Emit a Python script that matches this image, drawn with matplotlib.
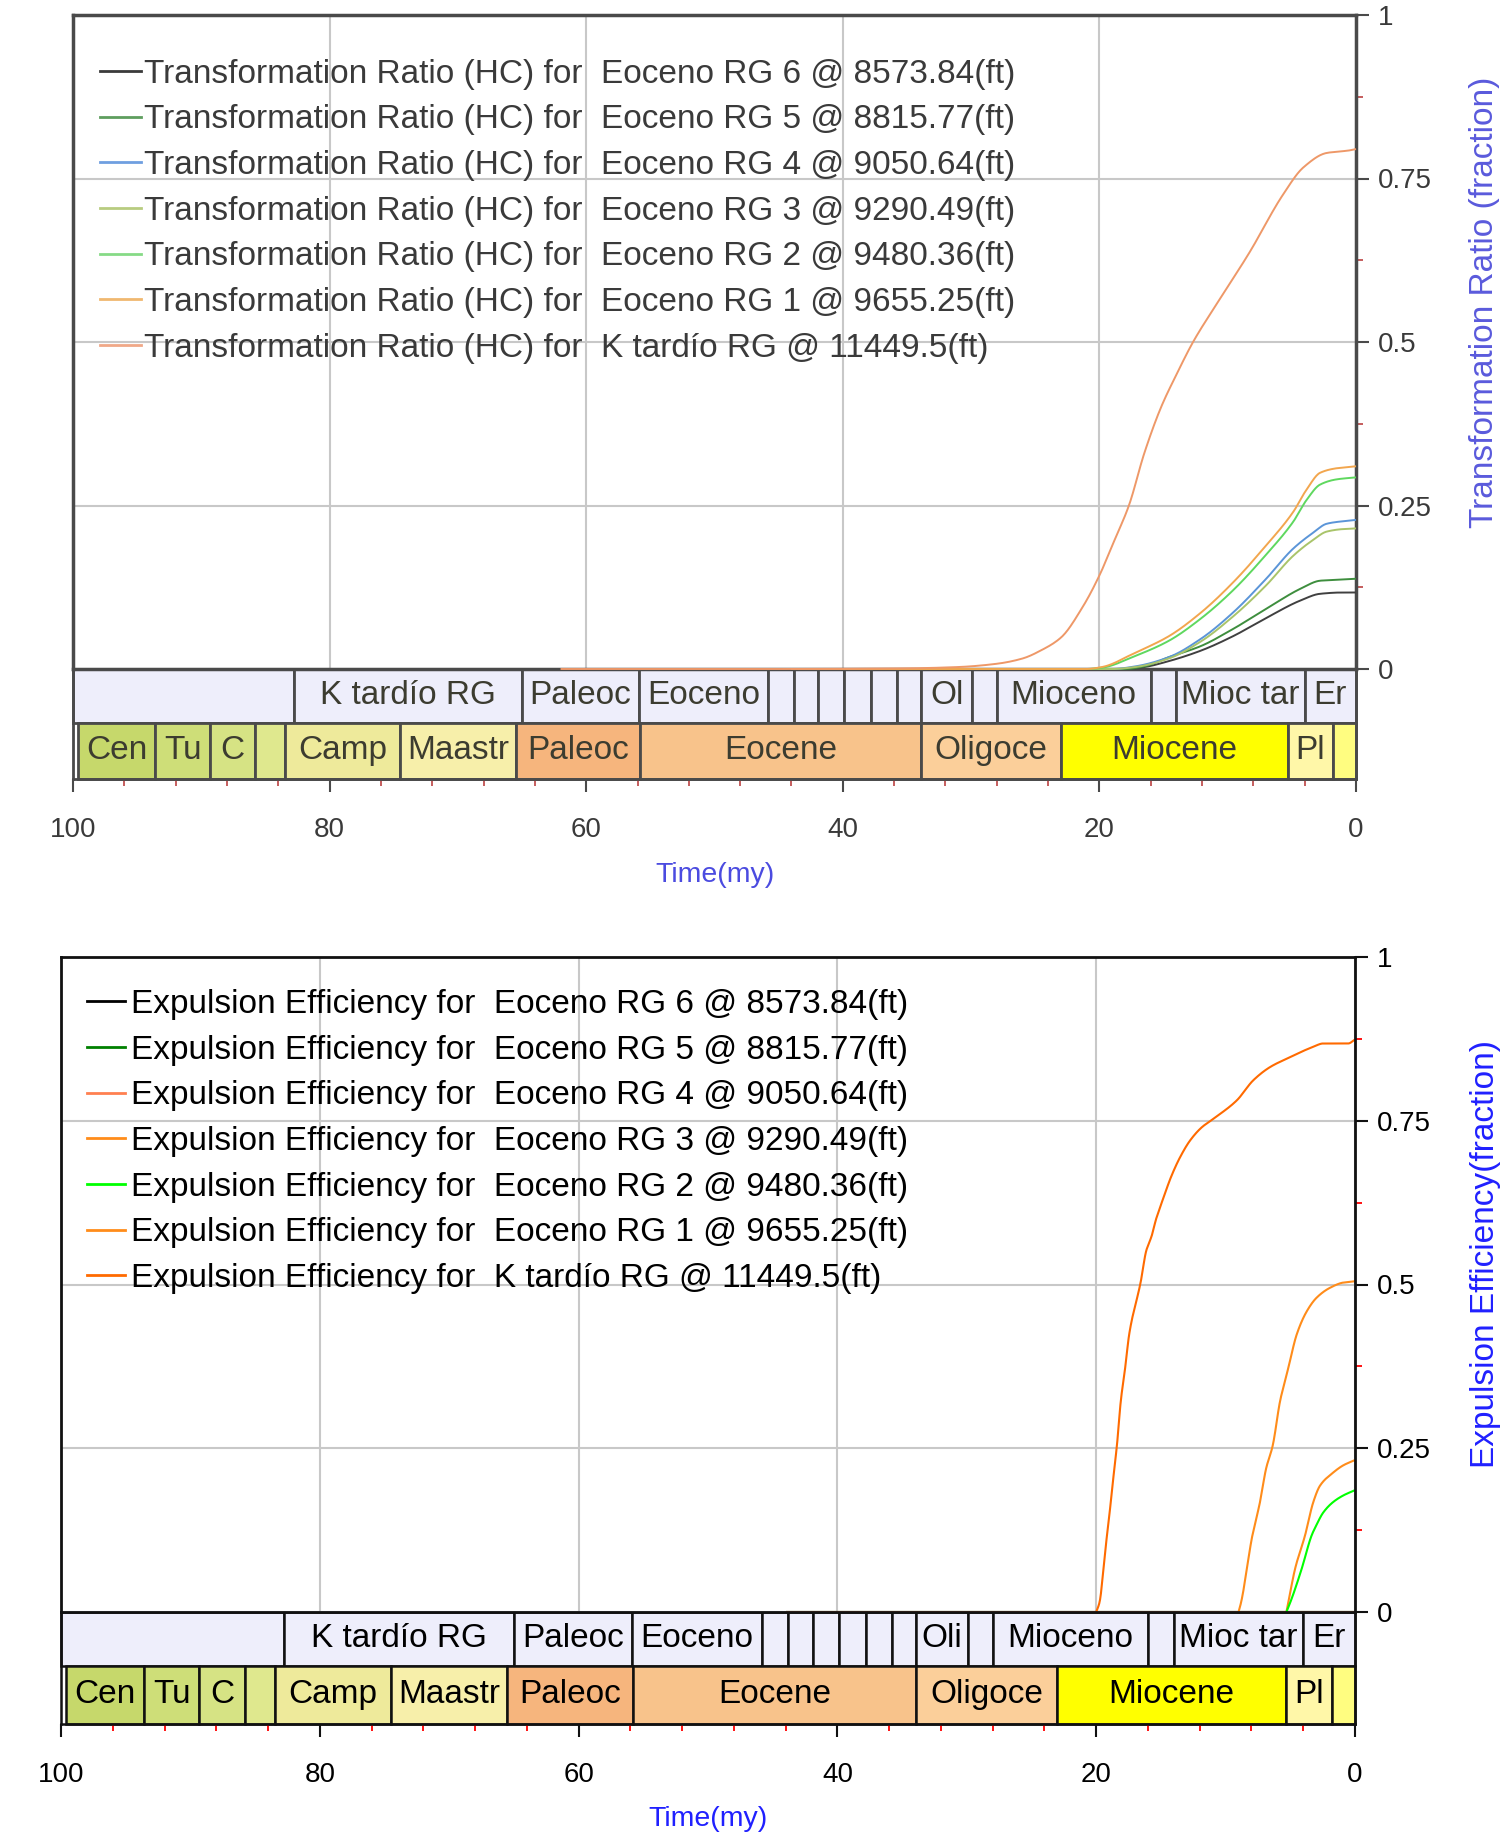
import numpy as np
import matplotlib
matplotlib.use('Agg')
import matplotlib.pyplot as plt
from matplotlib.patches import Rectangle
from matplotlib.lines import Line2D
from matplotlib.ticker import MultipleLocator, FixedLocator, FuncFormatter
from matplotlib import font_manager

installed = {f.name for f in font_manager.fontManager.ttflist}
FONT = 'Liberation Sans' if 'Liberation Sans' in installed else 'DejaVu Sans'
plt.rcParams['font.family'] = [FONT, 'DejaVu Sans']

# ---------------- stratigraphic columns ----------------
formation_edges = [100, 82.8, 65.0, 55.9, 45.8, 43.8, 41.9, 39.9, 37.8, 35.8,
                   33.9, 29.9, 28.0, 16.0, 14.0, 4.0, 0.0]
formation_names_top = ['', 'K tardío RG', 'Paleoc', 'Eoceno', '', '', '', '', '', '',
                       'Ol', '', 'Mioceno', '', 'Mioc tar', 'Er']
formation_names_bottom = ['', 'K tardío RG', 'Paleoc', 'Eoceno', '', '', '', '', '', '',
                          'Oli', '', 'Mioceno', '', 'Mioc tar', 'Er']

epoch_edges = [99.6, 93.6, 89.3, 85.8, 83.5, 74.5, 65.5, 55.8, 33.9, 23.03, 5.33, 1.81, 0.0]
epoch_names = ['Cen', 'Tu', 'C', '', 'Camp', 'Maastr', 'Paleoc', 'Eocene', 'Oligoce',
               'Miocene', 'Pl', '']
epoch_colors = ['#C6D86B', '#CEDE78', '#D6E384', '#DFE88E', '#EEEA9B', '#F7EFAA',
                '#F6B57D', '#F8C38B', '#FBCF9A', '#FFFF00', '#FFF7A8', '#FFFD80']

series_names = ['Eoceno RG 6 @ 8573.84(ft)', 'Eoceno RG 5 @ 8815.77(ft)',
                'Eoceno RG 4 @ 9050.64(ft)', 'Eoceno RG 3 @ 9290.49(ft)',
                'Eoceno RG 2 @ 9480.36(ft)', 'Eoceno RG 1 @ 9655.25(ft)',
                'K tardío RG @ 11449.5(ft)']

# ---------------- Transformation Ratio (HC) ----------------
tr_rg6_age = [44, 18, 16.5, 14.6, 12.1, 9.6, 7.0, 4.3, 2.8, 1.0, 0]
tr_rg6 = [0, 0, 0.003, 0.012, 0.028, 0.05, 0.078, 0.105, 0.115, 0.117, 0.117]
tr_rg5_age = [44, 18, 16.5, 14.6, 12.1, 9.6, 7.0, 4.3, 2.8, 1.0, 0]
tr_rg5 = [0, 0, 0.004, 0.018, 0.035, 0.061, 0.092, 0.123, 0.135, 0.137, 0.138]
tr_rg4_age = [44, 19, 17.2, 14.6, 12.1, 9.6, 7.0, 4.9, 3.3, 2.3, 1.0, 0]
tr_rg4 = [0, 0, 0.004, 0.018, 0.046, 0.086, 0.138, 0.184, 0.209, 0.222, 0.226, 0.228]
tr_rg3_age = [44, 19, 17.2, 14.6, 12.1, 9.6, 7.0, 4.9, 3.3, 2.3, 1.0, 0]
tr_rg3 = [0, 0, 0.003, 0.016, 0.042, 0.08, 0.128, 0.173, 0.198, 0.21, 0.214, 0.215]
tr_rg2_age = [44, 21, 19.8, 17.2, 14.6, 12.1, 9.6, 7.0, 4.9, 3.8, 2.8, 1.5, 0]
tr_rg2 = [0, 0, 0.002, 0.02, 0.043, 0.077, 0.12, 0.175, 0.225, 0.26, 0.282, 0.29, 0.293]
tr_rg1_age = [44, 21, 19.8, 17.2, 14.6, 12.1, 9.6, 7.0, 4.9, 3.8, 2.8, 1.5, 0]
tr_rg1 = [0, 0, 0.003, 0.025, 0.05, 0.086, 0.132, 0.189, 0.24, 0.276, 0.3, 0.307, 0.31]
tr_kt_age = [62, 45, 35, 31, 28, 26, 24.5, 23, 21.3, 20, 18.8, 17.7, 16.5, 15.2, 14,
             12.7, 10.8, 8.3, 5.7, 4.1, 2.3, 0.5, 0]
tr_kt = [0, 0, 0.001, 0.003, 0.008, 0.016, 0.029, 0.048, 0.095, 0.143, 0.198, 0.25, 0.33,
         0.4, 0.45, 0.5, 0.56, 0.637, 0.725, 0.767, 0.789, 0.793, 0.795]

# ---------------- Expulsion Efficiency ----------------
ee_rg6_age = [44, 0]
ee_rg6 = [0, 0]
ee_rg5_age = [44, 0]
ee_rg5 = [0, 0]
ee_rg4_age = [44, 0]
ee_rg4 = [0, 0]
ee_rg3_age = [5.3, 5.15, 4.63, 3.86, 3.22, 2.7, 1.68, 0.9, 0]
ee_rg3 = [0, 0.015, 0.066, 0.117, 0.168, 0.193, 0.213, 0.224, 0.232]
ee_rg2_age = [5.3, 4.9, 4.12, 3.35, 3.0, 2.45, 1.68, 0.9, 0]
ee_rg2 = [0, 0.02, 0.066, 0.117, 0.132, 0.152, 0.168, 0.178, 0.186]
ee_rg1_age = [9.0, 8.8, 7.93, 7.34, 6.87, 6.36, 5.79, 5.15, 4.5, 3.73, 2.96, 1.93, 0.9, 0]
ee_rg1 = [0, 0.015, 0.117, 0.168, 0.219, 0.254, 0.322, 0.373, 0.424, 0.459, 0.48, 0.495,
          0.503, 0.505]
ee_kt_age = [20.0, 19.74, 19.43, 19.17, 18.87, 18.6, 18.4, 18.1, 17.76, 17.45, 16.55,
             16.14, 15.7, 15.37, 15.06, 14.67, 14.2, 13.5, 12.74, 11.84, 10.94, 9.14,
             7.85, 6.56, 5.02, 3.22, 2.45, 0.52, 0]
ee_kt = [0, 0.015, 0.066, 0.117, 0.168, 0.219, 0.254, 0.322, 0.373, 0.424, 0.505,
         0.551, 0.575, 0.6, 0.618, 0.64, 0.665, 0.695, 0.72, 0.74, 0.753, 0.781,
         0.812, 0.832, 0.847, 0.863, 0.868, 0.868, 0.874]

tr_colors = ['#404040', '#3E8E3E', '#5B95D8', '#A9C46A', '#5FD85F', '#F2A64E', '#EE9868']
tr_legend_colors = ['#3A3A3A', '#5E9E5E', '#6F9FE0', '#B8CC80', '#86DA86', '#F0B870', '#F0A888']
ee_colors = ['#000000', '#008000', '#FF8050', '#FF8C1A', '#00FF00', '#FF8C1A', '#FF6A00']

W, H = 1507, 1836
fig = plt.figure(figsize=(W / 100, H / 100), dpi=100)
fig.patch.set_facecolor('white')


def smooth_curve(xs, ys, n=600):
    """Shape-preserving (PCHIP) curve through the given points, for drawing."""
    x = np.asarray(xs, float)
    y = np.asarray(ys, float)
    order = np.argsort(x)
    x, y = x[order], y[order]
    if len(x) < 3:
        return x, y
    h = np.diff(x)
    d = np.diff(y) / h
    m = np.zeros_like(y)
    for k in range(1, len(x) - 1):
        if d[k - 1] * d[k] > 0:
            w1 = 2 * h[k] + h[k - 1]
            w2 = h[k] + 2 * h[k - 1]
            m[k] = (w1 + w2) / (w1 / d[k - 1] + w2 / d[k])
    m[0], m[-1] = d[0], d[-1]
    xx = np.linspace(x[0], x[-1], n)
    idx = np.clip(np.searchsorted(x, xx) - 1, 0, len(x) - 2)
    t = (xx - x[idx]) / h[idx]
    h00 = 2 * t**3 - 3 * t**2 + 1
    h10 = t**3 - 2 * t**2 + t
    h01 = -2 * t**3 + 3 * t**2
    h11 = t**3 - t**2
    yy = h00 * y[idx] + h10 * h[idx] * m[idx] + h01 * y[idx + 1] + h11 * h[idx] * m[idx + 1]
    return xx, yy


def px_axes(left, right, top, bottom):
    return fig.add_axes([left / W, 1 - bottom / H, (right - left) / W, (bottom - top) / H])


def draw_panel(box, split, series, colors, legend_colors, prefix, formation_names,
               ylabel, ylabel_y, legend_anchor, hl, htp, st):
    left, right, top, base, strat_bottom = box
    ax_s = px_axes(left, right, base, strat_bottom)
    ax = px_axes(left, right, top, base)
    ax.sharex(ax_s)

    ax_s.set_xlim(100, 0)
    ax_s.set_ylim(0, 1)
    ax.set_ylim(0, 1)

    # stratigraphic bands
    for i, name in enumerate(formation_names):
        a, b = formation_edges[i], formation_edges[i + 1]
        ax_s.add_patch(Rectangle((b, split), a - b, 1 - split, facecolor='#EEEEFB',
                                 edgecolor=st['edge'], lw=st['band_lw'], clip_on=False))
        if name:
            ax_s.text((a + b) / 2, split + (1 - split) / 2, name, ha='center',
                      va='center', fontsize=24, color=st['band_text'])
    for i, name in enumerate(epoch_names):
        a, b = epoch_edges[i], epoch_edges[i + 1]
        ax_s.add_patch(Rectangle((b, 0), a - b, split, facecolor=epoch_colors[i],
                                 edgecolor=st['edge'], lw=st['band_lw'], clip_on=False))
        if name:
            ax_s.text((a + b) / 2, split / 2, name, ha='center', va='center',
                      fontsize=24, color=st['band_text'])

    ax_s.set_yticks([])
    ax_s.spines['top'].set_visible(False)
    for s in ('left', 'right', 'bottom'):
        ax_s.spines[s].set_color(st['edge'])
        ax_s.spines[s].set_linewidth(st['band_lw'])
    ax_s.xaxis.set_major_locator(MultipleLocator(20))
    ax_s.xaxis.set_minor_locator(MultipleLocator(4))
    ax_s.xaxis.set_major_formatter(FuncFormatter(lambda v, p: f'{v:g}'))
    ax_s.tick_params(axis='x', which='major', direction='out', length=9.5, width=1.5,
                     color=st['edge'], labelcolor=st['tick_text'], labelsize=20, pad=18)
    ax_s.tick_params(axis='x', which='minor', direction='out', length=5, width=1.3,
                     color=st['minor'])
    ax_s.set_xlabel('Time(my)', fontsize=20.5, color=st['xlabel'])
    ax_s.xaxis.set_label_coords(0.5, st['xlabel_y'])
    ax_s.xaxis.label.set_va('center')

    # curves
    for (ages, vals), c in zip(series, colors):
        xs, ys = smooth_curve(ages, vals)
        ax.plot(xs, ys, color=c, lw=st['line_lw'], zorder=st['line_z'],
                clip_on=st['line_clip'], solid_capstyle='butt')

    ax.grid(True, which='major', color='#C8C8C8', lw=1.5)
    ax.set_axisbelow(True)
    ax.tick_params(axis='x', which='both', bottom=False, labelbottom=False)
    ax.yaxis.tick_right()
    ax.set_yticks([0, 0.25, 0.5, 0.75, 1])
    ax.yaxis.set_minor_locator(FixedLocator([0.125, 0.375, 0.625, 0.875]))
    ax.yaxis.set_major_formatter(FuncFormatter(lambda v, p: f'{v:g}'))
    ax.tick_params(axis='y', which='major', direction='out', length=9, width=1.5,
                   color=st['edge'], labelcolor=st['tick_text'], labelsize=20, pad=7)
    ax.tick_params(axis='y', which='minor', direction='out', length=5, width=1.3,
                   color=st['minor'])
    for s in ('left', 'right', 'top', 'bottom'):
        ax.spines[s].set_color(st['edge'])
        ax.spines[s].set_linewidth(st['spine_lw'])

    ax.yaxis.set_label_position('right')
    ax.set_ylabel(ylabel, fontsize=24, color=st['ylabel'], rotation=90)
    ax.yaxis.set_label_coords(1.1005, ylabel_y)
    ax.yaxis.label.set_va('center')
    ax.yaxis.label.set_ha('center')

    handles = [Line2D([], [], color=c, lw=2) for c in legend_colors]
    labels = [prefix + n for n in series_names]
    ax.legend(handles, labels, loc='upper left', bbox_to_anchor=legend_anchor,
              frameon=False, fontsize=24, handlelength=hl, handletextpad=htp,
              labelspacing=0.44, borderpad=0, borderaxespad=0,
              labelcolor=st['legend_text'])
    return ax


top_style = dict(edge='#4A4A4A', band_lw=2.0, spine_lw=2.5, band_text='#3C3C30',
                 tick_text='#3A3A3A', minor='#C05050', xlabel='#4B4BE0',
                 ylabel='#5A5ADC', legend_text='#3A3A3A', line_lw=1.4, line_z=3,
                 line_clip=False, xlabel_y=-0.87)
bottom_style = dict(edge='#111111', band_lw=1.8, spine_lw=2.0, band_text='#000000',
                    tick_text='#000000', minor='#FF0000', xlabel='#2020FF',
                    ylabel='#2020FF', legend_text='#000000', line_lw=1.5, line_z=2,
                    line_clip=True, xlabel_y=-0.85)

tr_series = [(tr_rg6_age, tr_rg6), (tr_rg5_age, tr_rg5), (tr_rg4_age, tr_rg4),
             (tr_rg3_age, tr_rg3), (tr_rg2_age, tr_rg2), (tr_rg1_age, tr_rg1),
             (tr_kt_age, tr_kt)]
ee_series = [(ee_rg6_age, ee_rg6), (ee_rg5_age, ee_rg5), (ee_rg4_age, ee_rg4),
             (ee_rg3_age, ee_rg3), (ee_rg2_age, ee_rg2), (ee_rg1_age, ee_rg1),
             (ee_kt_age, ee_kt)]

draw_panel((73, 1356, 15, 669, 779), 0.51, tr_series, tr_colors, tr_legend_colors,
           'Transformation Ratio (HC) for  ', formation_names_top,
           'Transformation Ratio (fraction)', 0.56, (0.021, 0.933), 1.23, 0.08,
           top_style)
draw_panel((61, 1355, 957, 1612, 1724), 0.52, ee_series, ee_colors, ee_colors,
           'Expulsion Efficiency for  ', formation_names_bottom,
           'Expulsion Efficiency(fraction)', 0.547, (0.020, 0.951), 1.15, 0.18,
           bottom_style)

fig.savefig('out.png', dpi=100, facecolor='white')
